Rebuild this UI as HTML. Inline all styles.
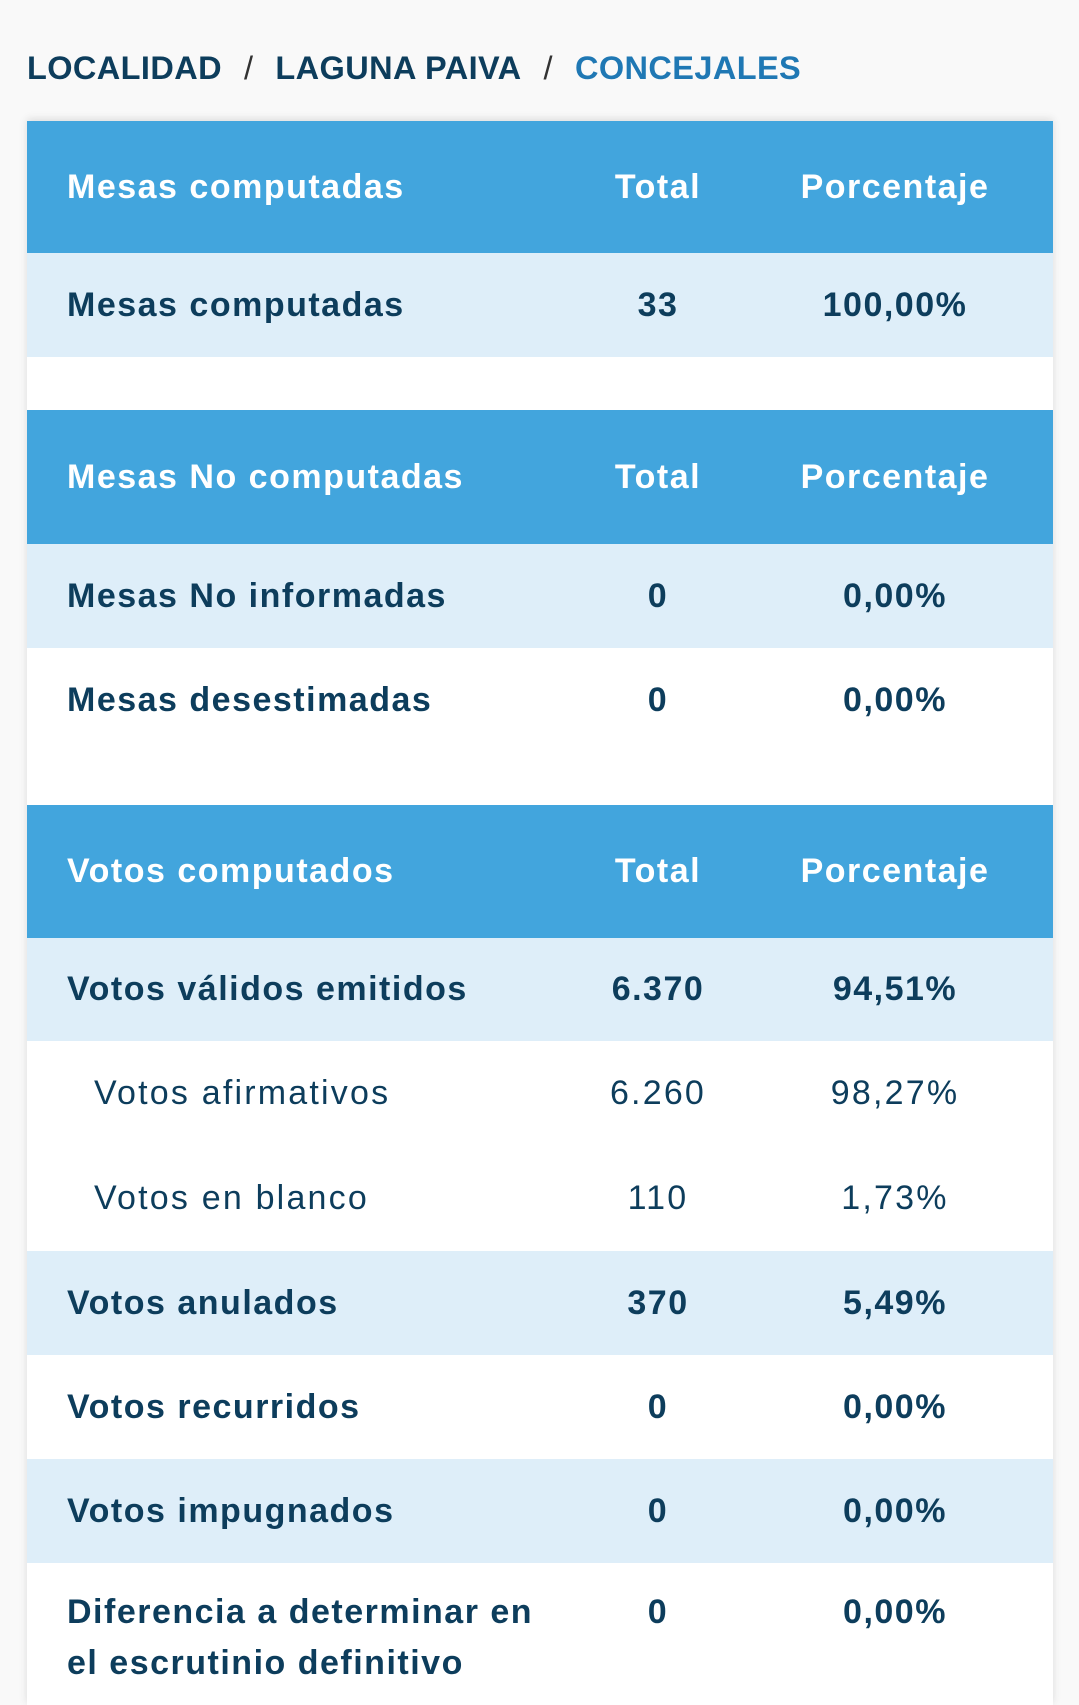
<!DOCTYPE html>
<html><head><meta charset="utf-8">
<style>
html,body{margin:0;padding:0;}
body{width:1079px;height:1705px;background:#f9f9f9;font-family:"Liberation Sans",sans-serif;position:relative;overflow:hidden;color:#0d3d5c;}
.crumb{position:absolute;top:50px;left:27px;font-size:32.5px;font-weight:bold;letter-spacing:0.4px;white-space:nowrap;}
.crumb span{display:inline-block;}
.sep{margin:0 22px;font-weight:normal;color:#333;}
.panel{position:absolute;left:27px;top:121px;width:1026px;height:1584px;background:#fff;box-shadow:0 -2px 8px rgba(0,0,0,0.12);}
.row{position:absolute;left:27px;width:1026px;}
.row div{position:absolute;top:0;height:100%;display:flex;align-items:center;white-space:nowrap;}
.lbl{left:40px;}
.ind{left:67px;}
.tot{left:581px;width:100px;justify-content:center;}
.pct{left:768px;width:200px;justify-content:center;}
.hdr{background:#42a5dd;color:#fff;font-size:34px;font-weight:bold;letter-spacing:1.5px;}
.b{font-size:34px;font-weight:bold;letter-spacing:1.5px;}
.n{font-size:34px;font-weight:normal;letter-spacing:2.2px;}
.alt{background:#deeef9;}
</style></head>
<body>
<div class="crumb">
<span>LOCALIDAD</span><span class="sep">/</span><span>LAGUNA PAIVA</span><span class="sep">/</span><span style="color:#1f78b4">CONCEJALES</span>
</div>
<div class="panel"></div>

<div class="row hdr" style="top:121px;height:132px"><div class="lbl">Mesas computadas</div><div class="tot">Total</div><div class="pct">Porcentaje</div></div>
<div class="row b alt" style="top:253px;height:104px"><div class="lbl">Mesas computadas</div><div class="tot">33</div><div class="pct">100,00%</div></div>

<div class="row hdr" style="top:410px;height:134px"><div class="lbl">Mesas No computadas</div><div class="tot">Total</div><div class="pct">Porcentaje</div></div>
<div class="row b alt" style="top:544px;height:104px"><div class="lbl">Mesas No informadas</div><div class="tot">0</div><div class="pct">0,00%</div></div>
<div class="row b" style="top:648px;height:105px"><div class="lbl">Mesas desestimadas</div><div class="tot">0</div><div class="pct">0,00%</div></div>

<div class="row hdr" style="top:805px;height:133px"><div class="lbl">Votos computados</div><div class="tot">Total</div><div class="pct">Porcentaje</div></div>
<div class="row b alt" style="top:938px;height:103px"><div class="lbl">Votos válidos emitidos</div><div class="tot">6.370</div><div class="pct">94,51%</div></div>
<div class="row n" style="top:1041px;height:104px"><div class="ind">Votos afirmativos</div><div class="tot">6.260</div><div class="pct">98,27%</div></div>
<div class="row n" style="top:1145px;height:106px"><div class="ind">Votos en blanco</div><div class="tot">110</div><div class="pct">1,73%</div></div>
<div class="row b alt" style="top:1251px;height:104px"><div class="lbl">Votos anulados</div><div class="tot">370</div><div class="pct">5,49%</div></div>
<div class="row b" style="top:1355px;height:104px"><div class="lbl">Votos recurridos</div><div class="tot">0</div><div class="pct">0,00%</div></div>
<div class="row b alt" style="top:1459px;height:104px"><div class="lbl">Votos impugnados</div><div class="tot">0</div><div class="pct">0,00%</div></div>
<div class="row b" style="top:1563px;height:142px">
<div class="lbl" style="top:24px;height:auto;display:block;white-space:normal;width:490px;line-height:51px">Diferencia a determinar en<br>el escrutinio definitivo</div>
<div class="tot" style="top:24px;height:51px">0</div><div class="pct" style="top:24px;height:51px">0,00%</div></div>
</body></html>
